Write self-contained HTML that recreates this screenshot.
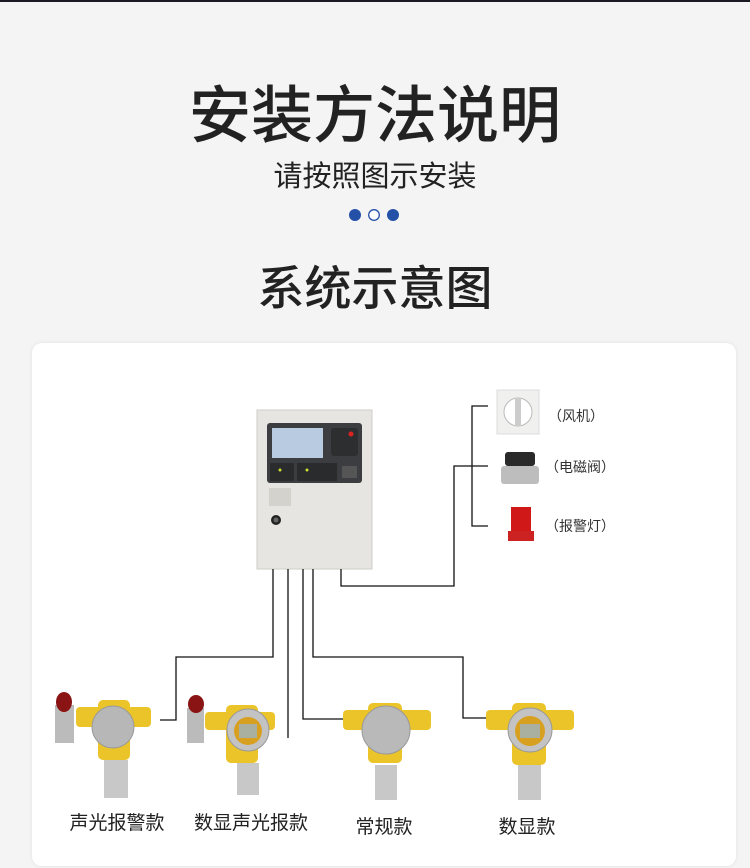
<!DOCTYPE html>
<html><head><meta charset="utf-8"><style>
html,body{margin:0;padding:0;}
body{width:750px;height:868px;background:#f4f4f4;position:relative;overflow:hidden;font-family:"Liberation Sans","Noto Sans CJK SC",sans-serif;color:#222;}
.t{position:absolute;left:0;width:750px;text-align:center;white-space:nowrap;}
</style></head><body>
<div style="position:absolute;left:0;top:0;width:750px;height:2px;background:#1a1a22"></div>
<div class="t" style="top:80px;font-size:62px;line-height:74px;font-weight:500;">安装方法说明</div>
<div class="t" style="top:158px;font-size:29px;line-height:38px;">请按照图示安装</div>
<svg style="position:absolute;left:0;top:0" width="750" height="868">
<circle cx="355" cy="215" r="6" fill="#2550a8"/>
<circle cx="374" cy="215" r="5.3" fill="#fff" stroke="#2550a8" stroke-width="1.3"/>
<circle cx="393" cy="215" r="6" fill="#2550a8"/>
</svg>
<div class="t" style="top:260px;font-size:47px;line-height:58px;font-weight:500;">系统示意图</div>
<div style="position:absolute;left:32px;top:343px;width:704px;height:523px;background:#fff;border-radius:10px;box-shadow:0 0 4px rgba(0,0,0,0.08)"></div>
<svg style="position:absolute;left:0;top:0" width="750" height="868">
<rect x="257" y="410" width="115" height="159" fill="#e6e5e1" stroke="#cfcdc8"/>
<rect x="267" y="423" width="95" height="60" rx="3" fill="#3b3d40"/>
<rect x="272" y="428" width="51" height="30" fill="#b9cbe0"/>
<rect x="331" y="428" width="27" height="28" rx="3" fill="#2c2e30"/>
<circle cx="351" cy="434" r="2.5" fill="#d22"/>
<rect x="270" y="463" width="24" height="18" fill="#2a2b2d"/>
<rect x="297" y="463" width="40" height="18" fill="#2a2b2d"/>
<circle cx="280" cy="470" r="1.5" fill="#cde030"/><circle cx="307" cy="470" r="1.5" fill="#cde030"/>
<rect x="342" y="466" width="15" height="12" fill="#555"/>
<rect x="269" y="488" width="22" height="18" fill="#d4d2cc"/>
<circle cx="276" cy="520" r="5" fill="#222"/><circle cx="276" cy="520" r="2.5" fill="#666"/>
<g fill="none" stroke="#111" stroke-width="1.3">
<polyline points="273,569 273,657 176,657 176,720 160,720"/>
<polyline points="288,569 288,738"/>
<polyline points="303,569 303,719 345,719"/>
<polyline points="313,569 313,657 463,657 463,718 488,718"/>
<polyline points="341,569 341,586 454,586 454,466 488,466"/>
<polyline points="488,406 472,406 472,526 488,526"/>
</g>
<rect x="497" y="390" width="42" height="44" fill="#f0f0ee" stroke="#ddd"/>
<circle cx="518" cy="412" r="14" fill="#fff" stroke="#bbb"/>
<rect x="515" y="398" width="6" height="28" fill="#ccc"/>
<rect x="505" y="452" width="30" height="14" rx="3" fill="#2a2a2a"/>
<rect x="501" y="466" width="38" height="18" rx="3" fill="#bdbdbd"/>
<path d="M511,507 h20 v24 h-20 z" fill="#d01818"/>
<rect x="508" y="531" width="26" height="10" fill="#c22"/>
<g font-size="14" fill="#333"><text x="548" y="421">（风机）</text><text x="545" y="472">（电磁阀）</text><text x="545" y="531">（报警灯）</text></g>
<rect x="55" y="705" width="19" height="38" fill="#bbb"/><ellipse cx="64" cy="702" rx="8" ry="10" fill="#8a1414"/>
<rect x="76" y="707" width="75" height="20" rx="4" fill="#ebc42a"/>
<rect x="98" y="700" width="32" height="60" rx="5" fill="#ebc42a"/>
<circle cx="113" cy="727" r="21" fill="#b7b7b7" stroke="#999"/>
<rect x="104" y="760" width="24" height="38" fill="#c8c8c8"/>
<rect x="187" y="708" width="17" height="35" fill="#bbb"/><ellipse cx="196" cy="704" rx="8" ry="9" fill="#8a1414"/>
<rect x="205" y="712" width="70" height="18" rx="4" fill="#ebc42a"/>
<rect x="226" y="705" width="32" height="58" rx="5" fill="#ebc42a"/>
<circle cx="248" cy="730" r="21" fill="#c3c3c3" stroke="#999"/>
<circle cx="248" cy="731" r="14" fill="#d8a020"/><rect x="239" y="724" width="18" height="14" fill="#aab0a0"/>
<rect x="237" y="763" width="22" height="32" fill="#c8c8c8"/>
<rect x="343" y="710" width="88" height="20" rx="4" fill="#ebc42a"/>
<rect x="368" y="703" width="34" height="60" rx="5" fill="#ebc42a"/>
<circle cx="386" cy="730" r="24" fill="#b9b9b9" stroke="#999"/>
<rect x="375" y="765" width="22" height="35" fill="#c8c8c8"/>
<rect x="486" y="710" width="88" height="20" rx="4" fill="#ebc42a"/>
<rect x="512" y="703" width="34" height="62" rx="5" fill="#ebc42a"/>
<circle cx="530" cy="730" r="22" fill="#c3c3c3" stroke="#999"/>
<circle cx="530" cy="731" r="15" fill="#d8a020"/><rect x="520" y="724" width="20" height="14" fill="#aab0a0"/>
<rect x="518" y="765" width="23" height="35" fill="#c8c8c8"/>
<g font-size="19" fill="#222" text-anchor="middle">
<text x="117" y="829">声光报警款</text>
<text x="251" y="829">数显声光报款</text>
<text x="384" y="833">常规款</text>
<text x="527" y="833">数显款</text>
</g>
</svg>
</body></html>
